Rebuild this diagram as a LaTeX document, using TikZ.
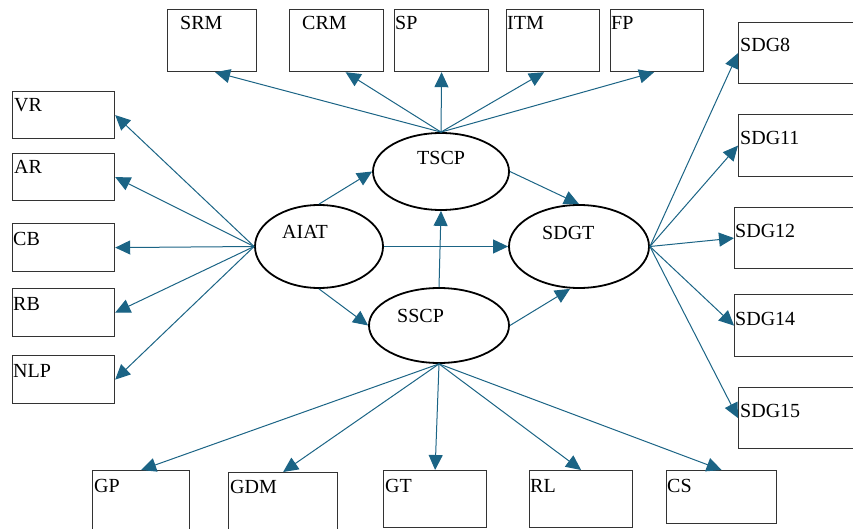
\documentclass[tikz,border=0pt]{standalone}
\usepackage{fontspec}
\setmainfont{Liberation Serif}
\usepackage{xcolor}
\usepackage{tikz}
\usetikzlibrary{shapes.geometric,arrows.meta,calc}
\definecolor{linkblue}{RGB}{27,100,133}

\begin{document}
\begin{tikzpicture}[
    x=1pt, y=-1pt,
    box/.style={rectangle, draw=black!80, line width=1.2pt, anchor=north west, inner sep=0pt},
    oval/.style={ellipse, draw, line width=1.8pt, inner sep=0pt},
    txt/.style={anchor=base west, inner sep=0pt, font=\fontsize{20}{24}\selectfont},
    arrow/.style={-{Triangle[length=15pt, width=14pt]}, linkblue, line width=1pt},
]
    \useasboundingbox (0,0) rectangle (853,529);
    \clip (0,0) rectangle (853,529);

    \node[oval, minimum width=128pt, minimum height=83pt] (aiat) at (319,246.5) {};
    \node[oval, minimum width=136pt, minimum height=77pt] (tscp) at (441,171.5) {};
    \node[oval, minimum width=140pt, minimum height=83pt] (sdgt) at (579,246.5) {};
    \node[oval, minimum width=140pt, minimum height=75pt] (sscp) at (439,325.5) {};
    \node[txt] (aiatt) at (282,238) {AIAT};
    \node[txt] (tscpt) at (417,165) {TSCP};
    \node[txt] (sdgtt) at (542,240) {SDGT};
    \node[txt] (sscpt) at (397,322) {SSCP};

    \node[box, minimum width=89pt, minimum height=62pt] (srm) at (167,9) {};
    \node[box, minimum width=94pt, minimum height=62pt] (crm) at (289,9) {};
    \node[box, minimum width=94pt, minimum height=62pt] (sp) at (394,9) {};
    \node[box, minimum width=93pt, minimum height=62pt] (itm) at (506,9) {};
    \node[box, minimum width=93pt, minimum height=62pt] (fp) at (610,9) {};
    \node[txt] (srmt) at ([xshift=13pt, yshift=-21pt]srm.north west) {SRM};
    \node[txt] (crmt) at ([xshift=13pt, yshift=-21pt]crm.north west) {CRM};
    \node[txt] (spt) at ([xshift=1pt, yshift=-21pt]sp.north west) {SP};
    \node[txt] (itmt) at ([xshift=1pt, yshift=-21pt]itm.north west) {ITM};
    \node[txt] (fpt) at ([xshift=1pt, yshift=-21pt]fp.north west) {FP};

    \node[box, minimum width=102pt, minimum height=47pt] (vr) at (12,91) {};
    \node[box, minimum width=102pt, minimum height=47pt] (ar) at (12,153) {};
    \node[box, minimum width=102pt, minimum height=48pt] (cb) at (12,223) {};
    \node[box, minimum width=102pt, minimum height=48pt] (rb) at (12,288) {};
    \node[box, minimum width=102pt, minimum height=48pt] (nlp) at (12,355) {};
    \node[txt] (vrt) at ([xshift=2pt, yshift=-21pt]vr.north west) {VR};
    \node[txt] (art) at ([xshift=2pt, yshift=-21pt]ar.north west) {AR};
    \node[txt] (cbt) at ([xshift=1pt, yshift=-22pt]cb.north west) {CB};
    \node[txt] (rbt) at ([xshift=1pt, yshift=-22pt]rb.north west) {RB};
    \node[txt] (nlpt) at ([xshift=1pt, yshift=-22pt]nlp.north west) {NLP};

    \node[box, minimum width=130pt, minimum height=61pt] (sdg8) at (738,22) {};
    \node[box, minimum width=130pt, minimum height=62pt] (sdg11) at (738,114) {};
    \node[box, minimum width=134pt, minimum height=61pt] (sdg12) at (734,207) {};
    \node[box, minimum width=134pt, minimum height=62pt] (sdg14) at (734,294) {};
    \node[box, minimum width=130pt, minimum height=61pt] (sdg15) at (738,387) {};
    \node[txt] (sdg8t) at ([xshift=2pt, yshift=-30pt]sdg8.north west) {SDG8};
    \node[txt] (sdg11t) at ([xshift=2pt, yshift=-31pt]sdg11.north west) {SDG11};
    \node[txt] (sdg12t) at ([xshift=1pt, yshift=-30pt]sdg12.north west) {SDG12};
    \node[txt] (sdg14t) at ([xshift=1pt, yshift=-31pt]sdg14.north west) {SDG14};
    \node[txt] (sdg15t) at ([xshift=2pt, yshift=-30pt]sdg15.north west) {SDG15};

    \node[box, minimum width=97pt, minimum height=70pt] (gp) at (92,470) {};
    \node[box, minimum width=109pt, minimum height=70pt] (gdm) at (228,472) {};
    \node[box, minimum width=103pt, minimum height=57pt] (gt) at (383,470) {};
    \node[box, minimum width=103pt, minimum height=57pt] (rl) at (529,470) {};
    \node[box, minimum width=110pt, minimum height=53pt] (cs) at (666,470) {};
    \node[txt] (gpt) at ([xshift=2pt, yshift=-22pt]gp.north west) {GP};
    \node[txt] (gdmt) at ([xshift=2pt, yshift=-21pt]gdm.north west) {GDM};
    \node[txt] (gtt) at ([xshift=2pt, yshift=-22pt]gt.north west) {GT};
    \node[txt] (rlt) at ([xshift=1pt, yshift=-22pt]rl.north west) {RL};
    \node[txt] (cst) at ([xshift=1pt, yshift=-22pt]cs.north west) {CS};

    \draw[arrow] (aiat.north) -- (tscp.west);
    \draw[arrow] (aiat.south) -- (sscp.west);
    \draw[arrow] (aiat.east) -- (sdgt.west);
    \draw[arrow] (sscp.north) -- (tscp.south);
    \draw[arrow] (tscp.east) -- (sdgt.north);
    \draw[arrow] (sscp.east) -- ([xshift=-9pt]sdgt.south);

    \draw[arrow] (tscp.north) -- ([xshift=3pt]srm.south);
    \draw[arrow] (tscp.north) -- ([xshift=9pt]crm.south);
    \draw[arrow] (tscp.north) -- (sp.south);
    \draw[arrow] (tscp.north) -- ([xshift=-9pt]itm.south);
    \draw[arrow] (tscp.north) -- ([xshift=-3pt]fp.south);

    \draw[arrow] (aiat.west) -- (vr.east);
    \draw[arrow] (aiat.west) -- (ar.east);
    \draw[arrow] (aiat.west) -- (cb.east);
    \draw[arrow] (aiat.west) -- (rb.east);
    \draw[arrow] (aiat.west) -- (nlp.east);

    \draw[arrow] (sdgt.east) -- (sdg8.west);
    \draw[arrow] (sdgt.east) -- (sdg11.west);
    \draw[arrow] (sdgt.east) -- (sdg12.west);
    \draw[arrow] (sdgt.east) -- (sdg14.west);
    \draw[arrow] (sdgt.east) -- (sdg15.west);

    \draw[arrow] (sscp.south) -- (gp.north);
    \draw[arrow] (sscp.south) -- (gdm.north);
    \draw[arrow] (sscp.south) -- (gt.north);
    \draw[arrow] (sscp.south) -- (rl.north);
    \draw[arrow] (sscp.south) -- (cs.north);
\end{tikzpicture}
\end{document}
